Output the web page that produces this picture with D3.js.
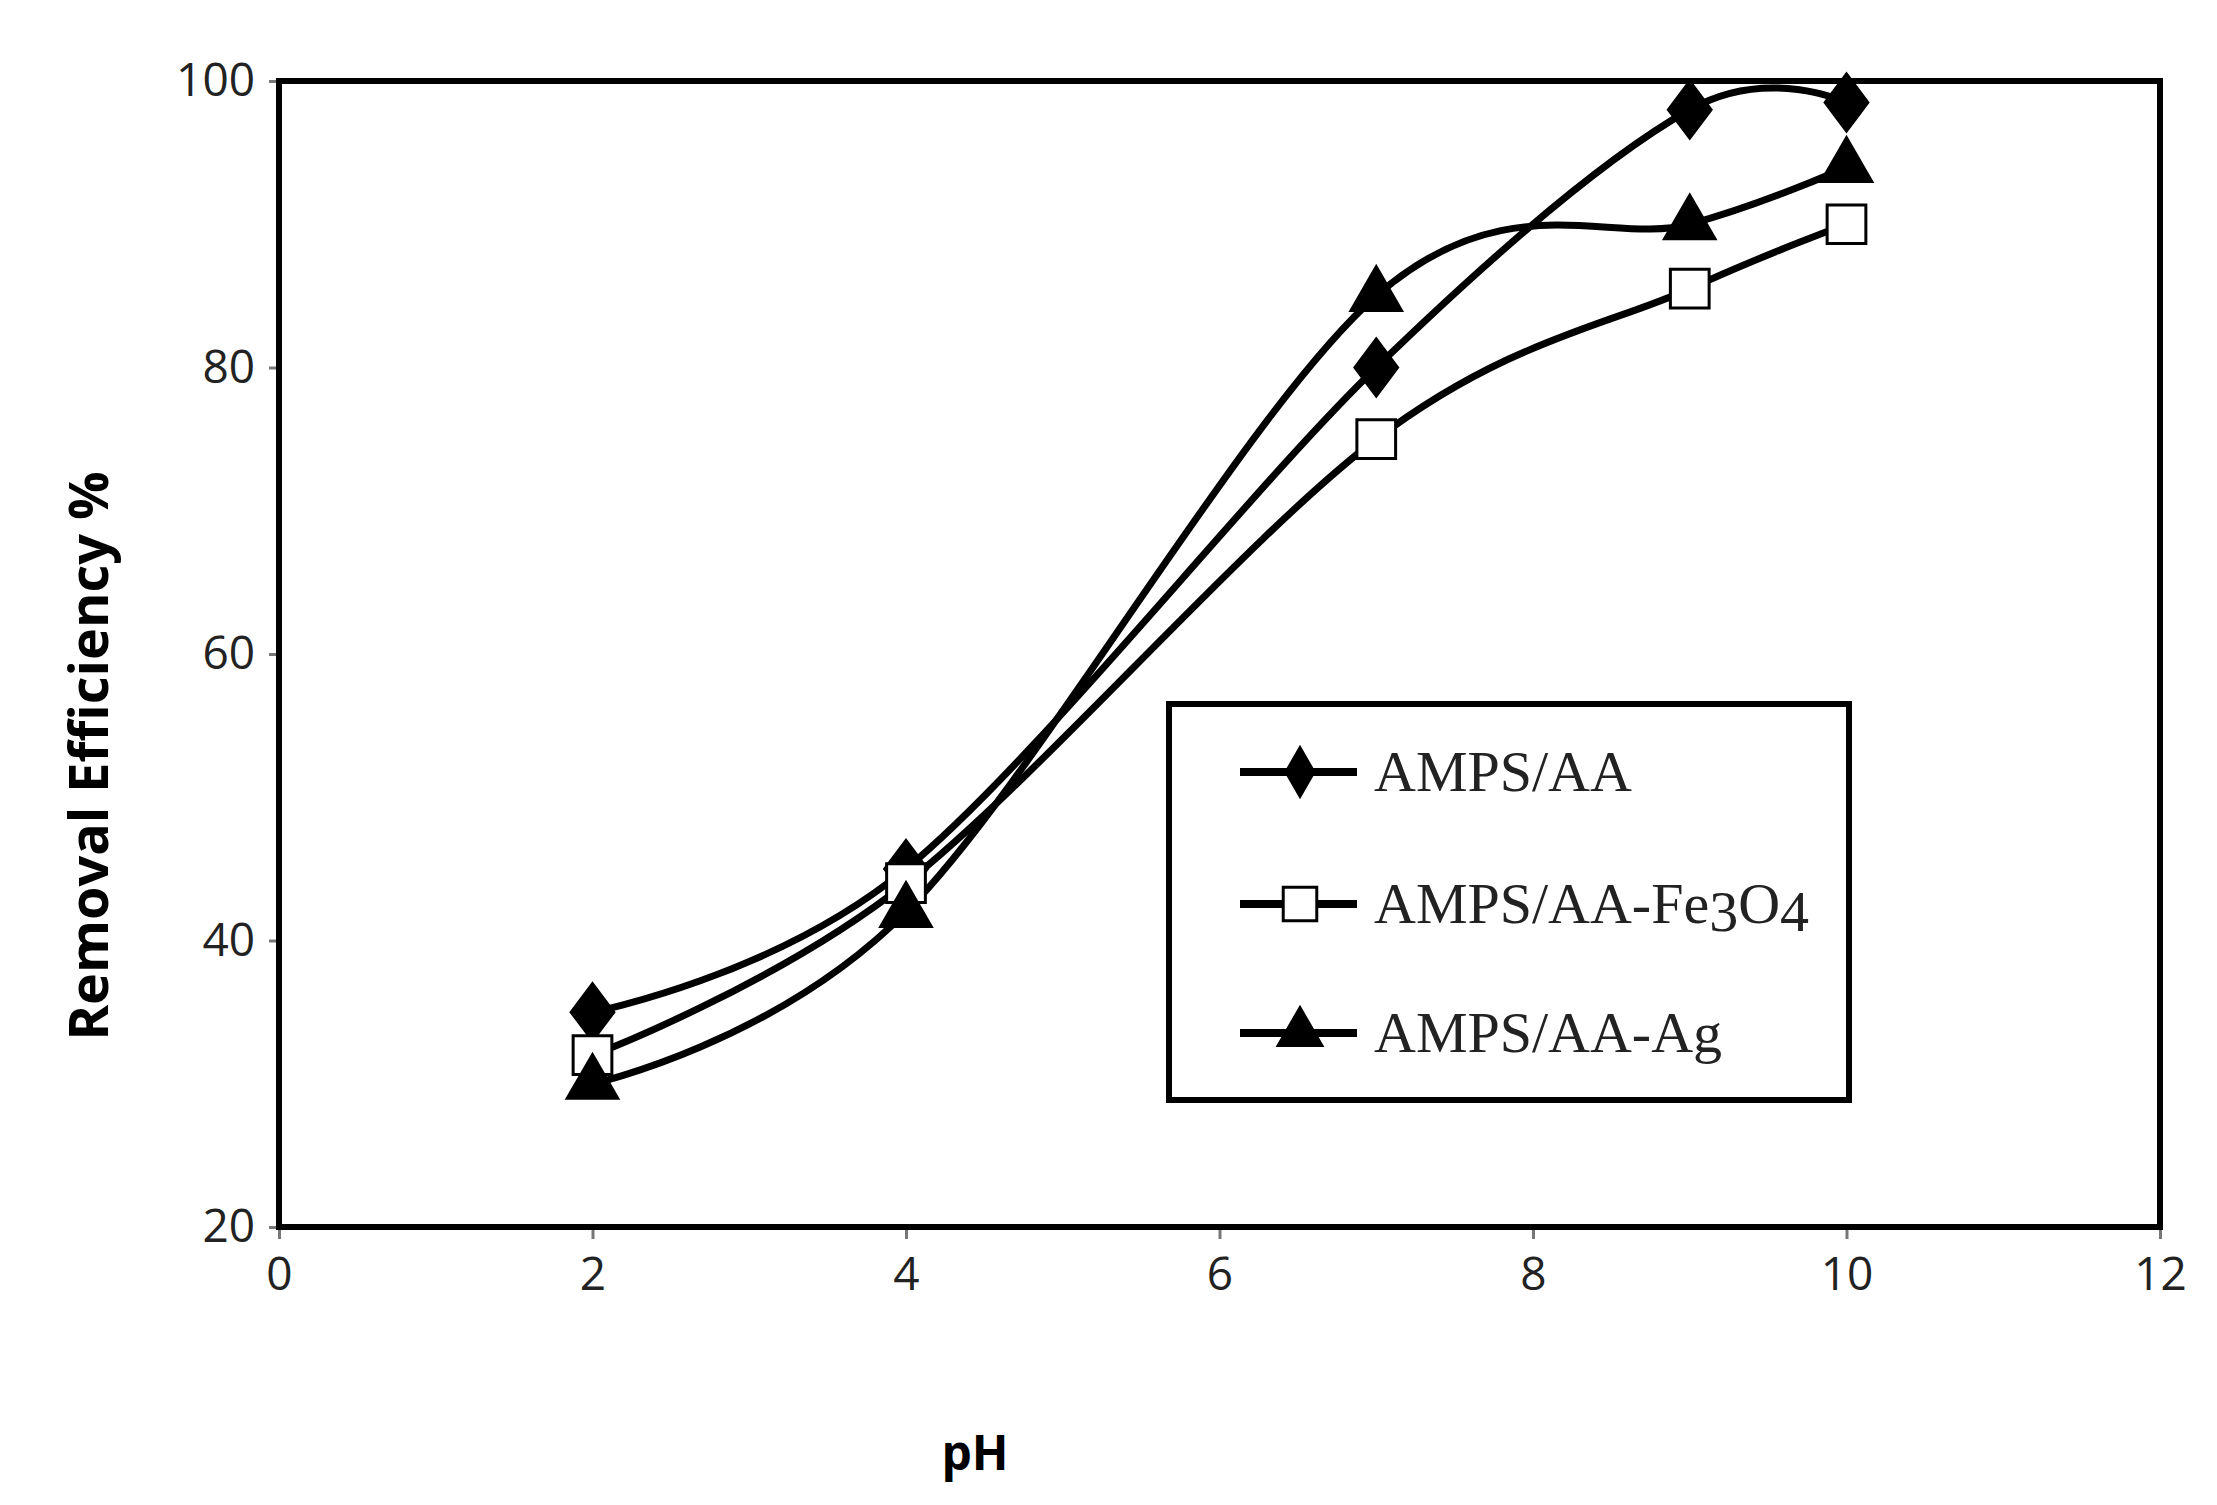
<!DOCTYPE html>
<html>
<head>
<meta charset="utf-8">
<script src="https://cdn.jsdelivr.net/npm/d3@7"></script>
<style>
  body { margin: 0; background: #fff; }
</style>
</head>
<body>
<div id="chart"></div>
<script>
// data
const phValues = [2, 4, 7, 9, 10];
const ampsAA = [35, 45, 80, 98, 98.5];
const ampsFe3O4 = [32, 44, 75, 85.5, 90];
const ampsAg = [30, 42, 85, 90, 94];
const xTicks = [0, 2, 4, 6, 8, 10, 12];
const yTicks = [20, 40, 60, 80, 100];

const width = 2217, height = 1505;
const margin = { top: 81, right: 57, bottom: 278, left: 279 };

const svg = d3.select("#chart")
  .append("svg")
  .attr("width", width)
  .attr("height", height);

const xScale = d3.scaleLinear().domain([0, 12]).range([margin.left, width - margin.right]);
const yScale = d3.scaleLinear().domain([20, 100]).range([height - margin.bottom, margin.top]);

// axes
svg.append("g")
  .attr("transform", `translate(0,${height - margin.bottom})`)
  .call(d3.axisBottom(xScale).tickValues(xTicks).tickSize(12).tickPadding(18))
  .call(g => g.selectAll("text").attr("font-size", 46).attr("font-family", "Open Sans").attr("fill", "#222"))
  .call(g => g.selectAll("line,path").attr("stroke", "#777").attr("stroke-width", 3));

svg.append("g")
  .attr("transform", `translate(${margin.left},0)`)
  .call(d3.axisLeft(yScale).tickValues(yTicks).tickSize(10).tickPadding(14))
  .call(g => g.selectAll("text").attr("font-size", 46).attr("font-family", "Open Sans").attr("fill", "#222"))
  .call(g => g.selectAll("line,path").attr("stroke", "#777").attr("stroke-width", 3));

// plot frame
svg.append("rect")
  .attr("x", margin.left).attr("y", margin.top)
  .attr("width", width - margin.left - margin.right)
  .attr("height", height - margin.top - margin.bottom)
  .attr("fill", "none").attr("stroke", "#000").attr("stroke-width", 6);

// axis titles
svg.append("text")
  .attr("transform", `translate(108,756) rotate(-90)`)
  .attr("text-anchor", "middle")
  .attr("font-family", "Open Sans").attr("font-weight", "bold").attr("font-size", 54)
  .text("Removal Efficiency %");

svg.append("text")
  .attr("x", 975).attr("y", 1470)
  .attr("text-anchor", "middle")
  .attr("font-family", "Open Sans").attr("font-weight", "bold").attr("font-size", 48)
  .text("pH");

const series = [
  { name: "AMPS/AA", values: ampsAA, symbol: d3.symbolDiamond, size: 900, fill: "#000" },
  { name: "AMPS/AA-Fe", values: ampsFe3O4, symbol: d3.symbolSquare, size: 1500, fill: "#fff" },
  { name: "AMPS/AA-Ag", values: ampsAg, symbol: d3.symbolTriangle, size: 1100, fill: "#000" }
];

const line = d3.line()
  .x((d, i) => xScale(phValues[i]))
  .y(d => yScale(d))
  .curve(d3.curveCatmullRom.alpha(0));

series.forEach(s => {
  svg.append("path")
    .attr("d", line(s.values))
    .attr("fill", "none").attr("stroke", "#000").attr("stroke-width", 7);
});

series.forEach(s => {
  svg.selectAll(null)
    .data(s.values)
    .enter()
    .append("path")
      .attr("d", d3.symbol().type(s.symbol).size(s.size))
      .attr("transform", (d, i) => `translate(${xScale(phValues[i])},${yScale(d)}) scale(${s.symbol === d3.symbolDiamond ? "1.3,1" : "1"})`)
      .attr("fill", s.fill).attr("stroke", "#000").attr("stroke-width", 3);
});

// legend
const legend = svg.append("g");
legend.append("rect")
  .attr("x", 1169).attr("y", 704).attr("width", 680).attr("height", 396)
  .attr("fill", "#fff").attr("stroke", "#000").attr("stroke-width", 6);

const legendY = [772, 904, 1033];
series.forEach((s, i) => {
  const y = legendY[i];
  legend.append("line")
    .attr("x1", 1240).attr("x2", 1357).attr("y1", y).attr("y2", y)
    .attr("stroke", "#000").attr("stroke-width", 8);
  legend.append("path")
    .attr("d", d3.symbol().type(s.symbol).size(s.size * 0.75))
    .attr("transform", `translate(1300,${y})`)
    .attr("fill", s.fill).attr("stroke", "#000").attr("stroke-width", 3);
  const t = legend.append("text")
    .attr("x", 1374).attr("y", y + 19)
    .attr("font-family", "Liberation Serif").attr("font-size", 58).attr("fill", "#222");
  t.append("tspan").text(s.name);
  if (i === 1) {
    t.append("tspan").attr("dy", 8).text("3");
    t.append("tspan").attr("dy", -8).text("O");
    t.append("tspan").attr("dy", 8).text("4");
  }
});
</script>
</body>
</html>
